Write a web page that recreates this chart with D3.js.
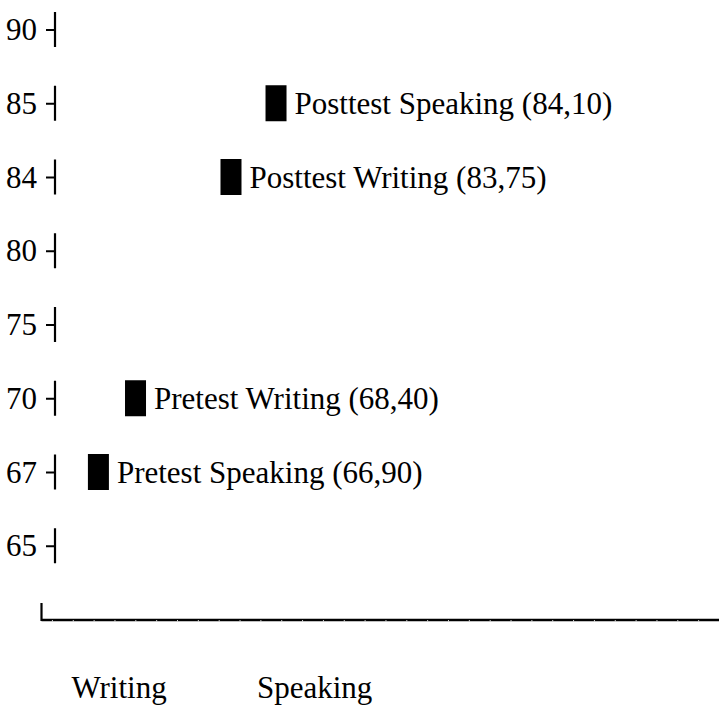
<!DOCTYPE html>
<html>
<head>
<meta charset="utf-8">
<script src="https://cdn.jsdelivr.net/npm/d3@7"></script>
<style>
  body { margin: 0; background: #fff; }
  text { font-family: "Liberation Serif", serif; fill: #000; }
</style>
</head>
<body>
<div id="chart"></div>
<script>
// y axis categories (top to bottom)
var levels = ["90", "85", "84", "80", "75", "70", "67", "65"];

// bars
var names  = ["Pretest Speaking", "Pretest Writing", "Posttest Writing", "Posttest Speaking"];
var scores = ["66,90", "68,40", "83,75", "84,10"];
var rows   = ["67", "70", "84", "85"];
var slots  = [2.73, 4.51, 9.09, 11.25];   // horizontal position, in axis units

// bottom labels
var xLabels = ["Writing", "Speaking"];
var xLabelSlots = [3.72, 13.1];

var width = 719, height = 711;

var svg = d3.select("#chart")
  .append("svg")
    .attr("width", width)
    .attr("height", height);

var y = d3.scalePoint()
  .domain(levels)
  .range([29.5, 545.75]);

var x = d3.scaleLinear()
  .domain([0, 32.5])
  .range([41.5, 719]);

var barW = 21, barH = 36;
var fs = 31;

// Y axis: label + small tick + vertical piece for each level
var yAxis = svg.append("g").attr("class", "y axis");
var yt = yAxis.selectAll("g")
  .data(levels)
  .enter()
  .append("g")
    .attr("transform", function(d) { return "translate(0," + y(d) + ")"; });

yt.append("line")
  .attr("x1", 46).attr("x2", 55)
  .attr("y1", 0.5).attr("y2", 0.5)
  .attr("stroke", "#000")
  .attr("stroke-width", 2);

yt.append("line")
  .attr("x1", 55).attr("x2", 55)
  .attr("y1", -17.5).attr("y2", 17.5)
  .attr("stroke", "#000")
  .attr("stroke-width", 2.2);

yt.append("text")
  .attr("x", 37)
  .attr("dy", "0.34em")
  .attr("text-anchor", "end")
  .style("font-size", fs + "px")
  .text(function(d) { return d; });

// X axis
var xAxis = svg.append("g")
  .attr("class", "x axis")
  .attr("transform", "translate(0,620)")
  .call(d3.axisBottom(x)
    .tickValues(d3.range(0, 32).map(function(k) { return k + 0.5; }))
    .tickSize(2)
    .tickFormat(""));

xAxis.select(".domain")
  .attr("stroke", "#000")
  .attr("stroke-width", 2.5)
  .attr("d", "M" + x(0) + ",0H" + x(32.5));
xAxis.selectAll(".tick line")
  .attr("stroke", "#d0d0d0")
  .attr("stroke-width", 1);

svg.append("line")
  .attr("x1", x(0)).attr("x2", x(0))
  .attr("y1", 603).attr("y2", 621)
  .attr("stroke", "#000")
  .attr("stroke-width", 2.2);

svg.selectAll(".xlabel")
  .data(xLabels)
  .enter()
  .append("text")
    .attr("class", "xlabel")
    .attr("x", function(d, i) { return x(xLabelSlots[i]); })
    .attr("y", 698)
    .attr("text-anchor", "middle")
    .style("font-size", fs + "px")
    .text(function(d) { return d; });

// Bars
var bars = svg.selectAll(".bar")
  .data(names)
  .enter()
  .append("g")
    .attr("class", "bar");

bars.append("rect")
  .attr("x", function(d, i) { return x(slots[i]) - barW / 2; })
  .attr("y", function(d, i) { return y(rows[i]) - barH / 2; })
  .attr("width", barW)
  .attr("height", barH)
  .attr("fill", "#000");

bars.append("text")
  .attr("x", function(d, i) { return x(slots[i]) + barW / 2 + 8; })
  .attr("y", function(d, i) { return y(rows[i]); })
  .attr("dy", "0.34em")
  .style("font-size", fs + "px")
  .text(function(d, i) { return d + " (" + scores[i] + ")"; });
</script>
</body>
</html>
